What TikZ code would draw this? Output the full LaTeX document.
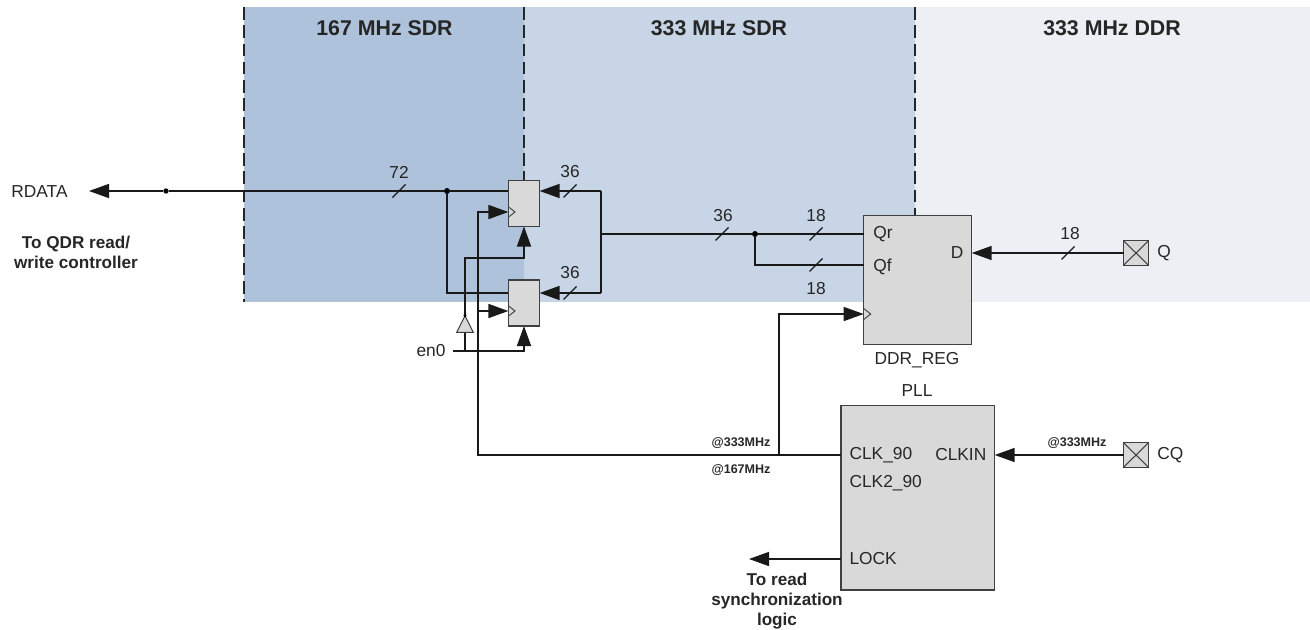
\documentclass[tikz,border=0pt]{standalone}
\usepackage{fontspec}
\setmainfont{Liberation Sans}
\usetikzlibrary{arrows.meta}
\definecolor{bandslow}{HTML}{AFC2DB}
\definecolor{bandmid}{HTML}{C7D5E6}
\definecolor{bandfast}{HTML}{ECF0F5}
\definecolor{boxgray}{HTML}{D9D9D9}
\definecolor{boxline}{HTML}{404040}
\tikzset{
  net/.style={line width=1.15pt,black!90},
  netarrow/.style={net,-{Triangle[length=15pt,width=10.5pt]}},
  zoneline/.style={line width=1.15pt,black!85,dash pattern=on 9.5pt off 4.2pt},
  regbox/.style={draw=boxline,fill=boxgray,line width=1pt,inner sep=0pt,outer sep=0pt},
  junct/.style={circle,fill=black,inner sep=0pt,minimum size=4.5pt},
  lbl/.style={font=\fontsize{13}{15}\selectfont,text=black!85,inner sep=0pt},
  lblbold/.style={lbl,font=\fontsize{12.85}{15}\selectfont\bfseries,align=center},
  zonetitle/.style={lbl,font=\fontsize{16}{18}\selectfont\bfseries},
  ratelbl/.style={lbl,font=\fontsize{9.4}{11}\selectfont\bfseries}
}
\begin{document}
\begin{tikzpicture}[x=0.75pt,y=-0.75pt]
\useasboundingbox (0,0) rectangle (1310,629);

% ===== clock zones =====
\fill[bandslow] (244,7) rectangle (524,302);
\fill[bandmid] (524,7) rectangle (915,302);
\fill[bandfast] (915,7) rectangle (1310,302);
\draw[zoneline] (244,7) -- (244,302);
\draw[zoneline] (524,7) -- (524,180);
\draw[zoneline] (915,7) -- (915,216);
\node[zonetitle] (titleslow) at (384.5,28.5) {167 MHz SDR};
\node[zonetitle] (titlemid) at (719,28.5) {333 MHz SDR};
\node[zonetitle] (titlefast) at (1112,28.5) {333 MHz DDR};

% ===== blocks =====
\node[regbox,minimum width=23.4pt,minimum height=34.5pt] (flopa) at (524,203.5) {};
\node[regbox,minimum width=23.4pt,minimum height=34.5pt] (flopb) at (524,303) {};
\node[regbox,minimum width=81pt,minimum height=96.5pt] (ddrreg) at (917.7,280) {};
\node[regbox,minimum width=115.3pt,minimum height=138.2pt] (pll) at (917.8,497.8) {};
\node[regbox,minimum width=18.7pt,minimum height=18.5pt] (padq) at (1136,253) {};
\node[regbox,minimum width=18.7pt,minimum height=18.5pt] (padcq) at (1136,455) {};
\draw[boxline,line width=0.8pt] (padq.north west) -- (padq.south east) (padq.north east) -- (padq.south west);
\draw[boxline,line width=0.8pt] (padcq.north west) -- (padcq.south east) (padcq.north east) -- (padcq.south west);

% ===== clock chevrons =====
\foreach \xc/\yc in {508/212,508/311,863.7/314}
  \draw[boxline,line width=0.7pt] (\xc,\yc-5.5) -- (\xc+7,\yc) -- (\xc,\yc+5.5);

% ===== read data =====
\coordinate (rdtip) at (89,191);
\node[junct,minimum size=4pt] (dotout) at (166,191) {};
\node[junct] (dotsplit) at (447,191) {};
\coordinate (splitlow) at (447,293);
\coordinate (feedtop) at (601,191);
\coordinate (feedmid) at (601,234);
\coordinate (feedlow) at (601,293);
\node[junct] (dotddr) at (755,234) {};
\coordinate (ddrlow) at (755,265);
\draw[netarrow] (dotout) -- (rdtip);
\draw[net] (flopa.west |- dotsplit) -- (dotsplit) -- (dotout);
\draw[net] (dotsplit) -- (splitlow) -- (flopb.west |- splitlow);
\draw[netarrow] (feedtop) -- (flopa.east |- feedtop);
\draw[netarrow] (feedlow) -- (flopb.east |- feedlow);
\draw[net] (feedtop) -- (feedlow);
\draw[net] (feedmid) -- (dotddr) -- (ddrreg.west |- dotddr);
\draw[net] (dotddr) -- (ddrlow) -- (ddrreg.west |- ddrlow);
\draw[netarrow] (padq.west) -- (ddrreg.east |- padq.west);

% ===== bus marks =====
\foreach \xb/\yb in {399/191,570/191,570/293,722/234,816/234,816/265,1068/253}
  \draw[net,line width=0.9pt] (\xb-6.5,\yb+6.5) -- (\xb+6.5,\yb-6.5);

% ===== clocks =====
\coordinate (clkcorner) at (478,455);
\coordinate (clktop) at (478,212);
\coordinate (clkmid) at (478,311);
\coordinate (clkup) at (779,455);
\coordinate (clkddr) at (779,314);
\draw[netarrow] (pll.west |- clkcorner) -- (clkcorner) -- (clktop) -- (flopa.west |- clktop);
\draw[netarrow] (clkmid) -- (flopb.west |- clkmid);
\draw[netarrow] (clkup) -- (clkddr) -- (ddrreg.west |- clkddr);
\draw[netarrow] (padcq.west) -- (pll.east |- padcq.west);
\coordinate (locktip) at (749,559);
\draw[netarrow] (pll.west |- locktip) -- (locktip);

% ===== enable =====
\coordinate (enstart) at (453,351);
\coordinate (enjoin) at (465,351);
\coordinate (enbase) at (465,332.3);
\coordinate (enapex) at (465,315.7);
\coordinate (enhigh) at (465,258);
\coordinate (enlowend) at (524,351);
\coordinate (enhighend) at (524,258);
\draw[netarrow] (enstart) -- (enlowend) -- (flopb.south);
\draw[net] (enjoin) -- (enbase);
\draw[netarrow] (enapex) -- (enhigh) -- (enhighend) -- (flopa.south);
\draw[boxline,line width=0.8pt,fill=boxgray] (enapex) -- (473.3,332.3) -- (456.7,332.3) -- cycle;
\node[junct,minimum size=2.5pt] (dotbuf) at (enapex) {};

% ===== labels =====
\node[lbl] (rdata) at (39.5,191.5) {RDATA};
\node[lblbold] (ctrlnote) at (76,252.5) {To QDR read/\\write controller};
\node[lbl] (bus72) at (399,172) {72};
\node[lbl] (bus36a) at (570,172) {36};
\node[lbl] (bus36b) at (570,273) {36};
\node[lbl] (bus36c) at (723,216) {36};
\node[lbl] (bus18a) at (816,216) {18};
\node[lbl] (bus18b) at (816,289) {18};
\node[lbl] (bus18c) at (1070,234) {18};
\node[lbl] (en) at (431,351) {en0};
\node[lbl,anchor=west] (qr) at (873,234.5) {Qr};
\node[lbl,anchor=west] (qf) at (873,267) {Qf};
\node[lbl,anchor=west] (dpin) at (950.5,252.5) {D};
\node[lbl] (ddrname) at (917,360.5) {DDR\_REG};
\node[lbl] (pllname) at (917,391) {PLL};
\node[lbl,anchor=west] (clk90) at (849.3,455.5) {CLK\_90};
\node[lbl,anchor=west] (clkin) at (935,454.5) {CLKIN};
\node[lbl,anchor=west] (clk290) at (849.3,483.5) {CLK2\_90};
\node[lbl,anchor=west] (lock) at (849.3,559) {LOCK};
\node[lbl,anchor=west] (qname) at (1157,253) {Q};
\node[lbl,anchor=west] (cqname) at (1157,455) {CQ};
\node[ratelbl] (rate333) at (741,443) {@333MHz};
\node[ratelbl] (rate167) at (741,470) {@167MHz};
\node[ratelbl] (ratein) at (1077,443) {@333MHz};
\node[lblbold] (locknote) at (777,601) {To read\\synchronization\\logic};
\end{tikzpicture}
\end{document}
